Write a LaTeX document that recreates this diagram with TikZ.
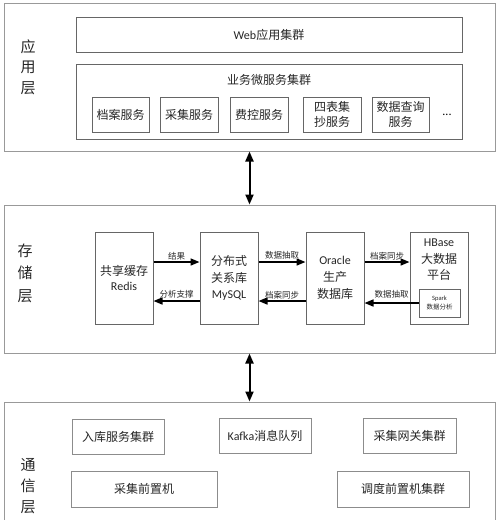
\documentclass[tikz,border=0pt]{standalone}
\usepackage{fontspec}
\setmainfont{Noto Sans CJK SC}
\newfontfamily\lat{Carlito}
\usetikzlibrary{arrows.meta}

\begin{document}
\begin{tikzpicture}[x=1pt,y=-1pt,
        layer/.style={draw=black!40,line width=1pt,inner sep=0pt},
        unit/.style={draw=black!60,line width=1pt,inner sep=0pt,align=center,
            text=black!85,font=\fontsize{12}{15}\selectfont},
        side/.style={align=center,text=black!85},
        flow/.style={line width=1.6pt,-{Triangle[length=9pt,width=7pt]}},
        link/.style={line width=2pt,{Triangle[length=10pt,width=8pt]}-{Triangle[length=10pt,width=8pt]}},
        tag/.style={font=\fontsize{8.5}{10}\selectfont,inner sep=1.5pt,text=black!85}]
        \clip (0,0) rectangle (500,520);
        % application layer
        \node [layer,minimum width=491pt,minimum height=148pt] (app) at (249.5,77) {};
        \node [side,font=\fontsize{15}{20.5}\selectfont] (applbl) at (28,67) {应\\用\\层};
        \node [unit,minimum width=386pt,minimum height=35pt] (web) at (269,34.5) {{\lat Web}应用集群};
        \node [unit,minimum width=386pt,minimum height=75pt] (micro) at (269,101.5) {};
        \node [text=black!85,font=\fontsize{12}{15}\selectfont] (microlbl) at (269,80) {业务微服务集群};
        \node [unit,minimum width=57pt,minimum height=35pt] (dangan) at (120.5,114.5) {档案服务};
        \node [unit,minimum width=58pt,minimum height=35pt] (caiji) at (189,114.5) {采集服务};
        \node [unit,minimum width=58pt,minimum height=35pt] (feikong) at (259,114.5) {费控服务};
        \node [unit,minimum width=58pt,minimum height=35pt] (sibiao) at (332,114.5) {四表集\\抄服务};
        \node [unit,minimum width=57pt,minimum height=35pt] (chaxun) at (400.5,114.5) {数据查询\\服务};
        \node [font=\lat\fontsize{12}{15}\selectfont] (more) at (447,115) {...};
        % storage layer
        \node [layer,minimum width=491pt,minimum height=148pt] (store) at (249.5,279) {};
        \node [side,font=\fontsize{15}{22.5}\selectfont] (storelbl) at (25,273) {存\\储\\层};
        \node [unit,minimum width=58pt,minimum height=92pt] (redis) at (124,278) {共享缓存\\{\lat Redis}};
        \node [unit,minimum width=58pt,minimum height=92pt,font=\fontsize{12}{16.5}\selectfont] (mysql) at (229,278) {分布式\\关系库\\{\lat MySQL}};
        \node [unit,minimum width=58pt,minimum height=92pt,font=\fontsize{12}{17}\selectfont] (oracle) at (335,278) {{\lat Oracle}\\生产\\数据库};
        \node [unit,minimum width=58pt,minimum height=92pt] (hbase) at (439,278) {};
        \node [side,font=\fontsize{12}{16.5}\selectfont] (hbaselbl) at (439,260) {{\lat HBase}\\大数据\\平台};
        \node [unit,minimum width=41pt,minimum height=28pt,line width=0.8pt,font=\fontsize{6.5}{9.5}\selectfont] (spark) at (439.5,303) {{\lat Spark}\\数据分析};
        \coordinate (up) at (0,262);
        \coordinate (dn) at (0,301);
        \draw [flow] (redis.east |- up) -- node [tag,above] {结果} (mysql.west |- up);
        \draw [flow] (mysql.west |- dn) -- node [tag,above] {分析支撑} (redis.east |- dn);
        \draw [flow] (mysql.east |- up) -- node [tag,above] {数据抽取} (oracle.west |- up);
        \draw [flow] (oracle.west |- dn) -- node [tag,above] {档案同步} (mysql.east |- dn);
        \draw [flow] (oracle.east |- up) -- node [tag,above] {档案同步} (hbase.west |- up);
        \draw [flow] (spark.west) -- node [tag,above,yshift=2pt] {数据抽取} (oracle.east |- spark.west);
        % communication layer
        \node [layer,minimum width=491pt,minimum height=148pt] (comm) at (249.5,476) {};
        \node [side,font=\fontsize{15}{21}\selectfont] (commlbl) at (28,486) {通\\信\\层};
        \node [unit,draw=black!45,minimum width=92pt,minimum height=35pt] (ruku) at (118,436.5) {入库服务集群};
        \node [unit,draw=black!45,minimum width=92pt,minimum height=35pt] (kafka) at (265,435.5) {{\lat Kafka}消息队列};
        \node [unit,draw=black!45,minimum width=93pt,minimum height=35pt] (gateway) at (409.5,435.5) {采集网关集群};
        \node [unit,draw=black!45,minimum width=146pt,minimum height=36pt] (front) at (144,489) {采集前置机};
        \node [unit,draw=black!45,minimum width=132pt,minimum height=36pt] (sched) at (403,489) {调度前置机集群};
        % between layers
        \draw [link] (app.south) -- (store.north);
        \draw [link] (store.south) -- (comm.north);
    \end{tikzpicture}
\end{document}
